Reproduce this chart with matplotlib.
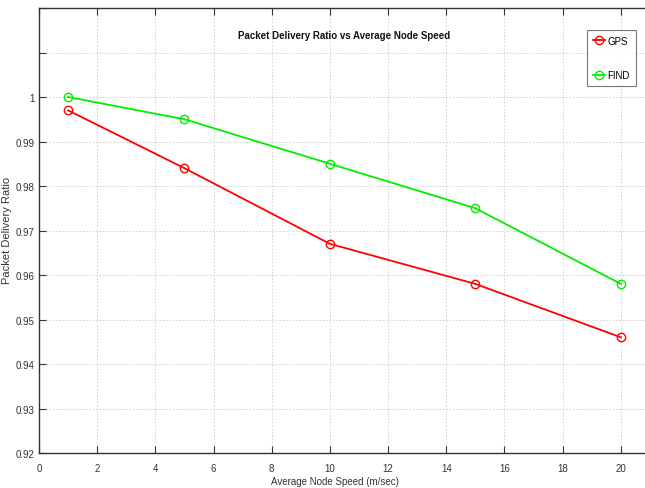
import matplotlib
matplotlib.use("Agg")
import matplotlib.pyplot as plt

plt.rcParams['font.family'] = ['Liberation Sans Narrow', 'Liberation Sans', 'DejaVu Sans']

speed = [1, 5, 10, 15, 20]
gps = [0.997, 0.984, 0.967, 0.958, 0.946]
find = [1.000, 0.995, 0.985, 0.975, 0.958]

xticks = list(range(0, 23, 2))
xlabels = [str(v) for v in range(0, 21, 2)] + ['']
yticks = [0.92, 0.93, 0.94, 0.95, 0.96, 0.97, 0.98, 0.99, 1.00, 1.01, 1.02]
ylabels = ['0.92', '0.93', '0.94', '0.95', '0.96', '0.97', '0.98', '0.99', '1', '', '']

fig = plt.figure(figsize=(6.45, 4.89), dpi=100)
ax = fig.add_axes([39 / 645, 35 / 489, 640 / 645, 445 / 489])

ax.plot(speed, gps, color='#ff0000', marker='o', markersize=6, markerfacecolor='none',
        markeredgewidth=1.0, linewidth=1.3, label='GPS')
ax.plot(speed, find, color='#00ee00', marker='o', markersize=6, markerfacecolor='none',
        markeredgewidth=1.0, linewidth=1.3, label='FIND')

ax.set_xlim(0, 22)
ax.set_ylim(0.92, 1.02)
ax.set_xticks(xticks)
ax.set_xticklabels(xlabels)
ax.set_yticks(yticks)
ax.set_yticklabels(ylabels)
ax.tick_params(direction='in', top=True, right=True, labelsize=7, length=5, width=0.8,
               colors='#333333', labelcolor='#333333')
ax.tick_params(axis='x', pad=7)
ax.tick_params(axis='y', pad=3)
ax.grid(True, linestyle=(0, (2, 2)), color='#cccccc', linewidth=0.6)
for s in ax.spines.values():
    s.set_color('#333333')
    s.set_linewidth(1.0)

fig.text(335 / 645, 1 - 482 / 489, 'Average Node Speed (m/sec)',
         ha='center', va='center', fontsize=7, color='#333333')
fig.text(7 / 645, 1 - 230 / 489, 'Packet Delivery Ratio', rotation=90,
         ha='center', va='center', fontsize=8, color='#333333')

fig.text(344 / 645, 1 - 36 / 489, 'Packet Delivery Ratio vs Average Node Speed',
         ha='center', va='center', fontsize=7, fontweight='bold', color='#111111')

leg = ax.legend(loc='upper left', bbox_to_anchor=((587 - 39) / 640, 1 - 22 / 445),
                fontsize=7, frameon=True, fancybox=False, handlelength=1.3,
                labelspacing=2.5, borderpad=0.6, handletextpad=0.2, borderaxespad=0)
leg.get_frame().set_edgecolor('#555555')
leg.get_frame().set_linewidth(0.8)

fig.savefig('out.png', dpi=100)
